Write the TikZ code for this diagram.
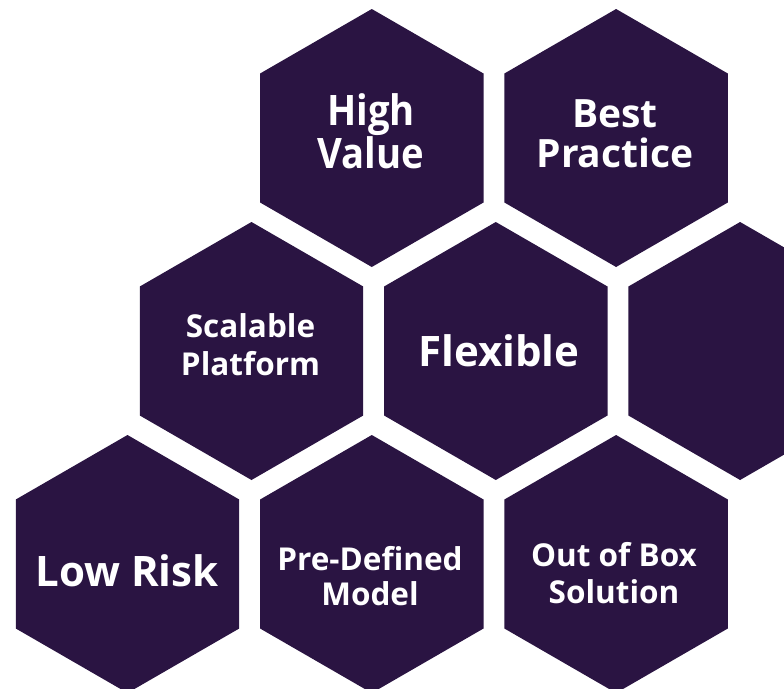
\documentclass[tikz,border=0pt]{standalone}
\usepackage{fontspec}
\setmainfont{Open Sans}
\newfontfamily\narrowsans[FakeStretch=0.91]{Open Sans}
\usetikzlibrary{shapes.geometric}
\definecolor{hexpurple}{HTML}{2A1442}
\tikzset{
  hexa/.style={regular polygon, regular polygon sides=6, shape border rotate=30,
    minimum size=258pt, inner sep=0pt, outer sep=0pt, fill=hexpurple, draw=none},
  txt/.style={text=white, align=center, inner sep=0pt},
  bigtxt/.style={txt, font=\bfseries\fontsize{42}{37}\selectfont},
  smalltxt/.style={txt, font=\bfseries\fontsize{31.5}{37}\selectfont},
}
\begin{document}
\begin{tikzpicture}[x=1pt,y=-1pt]
\useasboundingbox (0,0) rectangle (784,688);
% row 1
\node[hexa] (hv) at (371.8,138) {};
\node[hexa] (bp) at (616.1,138) {};
% row 2
\node[hexa] (sp) at (251.5,351) {};
\node[hexa] (fx) at (495.8,351) {};
\node[hexa] (em) at (740.1,351) {};
% row 3
\node[hexa] (lr) at (127.5,564) {};
\node[hexa] (pd) at (371.8,564) {};
\node[hexa] (ob) at (616.1,564) {};
% labels
\node[txt, font=\narrowsans\bfseries\fontsize{42}{36.7}\selectfont] (thv) at (371,131) {High\\Value};
\node[txt, font=\bfseries\fontsize{39}{40}\selectfont] (tbp) at (615,134) {Best\\Practice};
\node[smalltxt, font=\bfseries\fontsize{31.5}{38}\selectfont] (tsp) at (250.5,344.5) {Scalable\\Platform};
\node[bigtxt] (tfx) at (499,351) {Flexible};
\node[bigtxt] (tlr) at (127,571) {Low Risk};
\node[smalltxt, font=\bfseries\fontsize{31.5}{35}\selectfont] (tpd) at (370,576) {Pre-Defined\\Model};
\node[smalltxt] (tob) at (614,573.5) {Out of Box\\Solution};
\end{tikzpicture}
\end{document}
